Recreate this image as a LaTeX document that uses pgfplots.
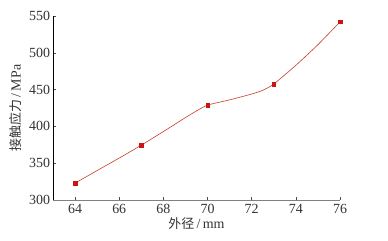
\documentclass[border=0pt]{standalone}
\usepackage{fontspec}
\setmainfont{Liberation Serif}
\newfontfamily\cjk{Noto Sans CJK SC}
\usepackage{pgfplots}
\pgfplotsset{compat=1.18}
\definecolor{linec}{RGB}{200,60,40}
\definecolor{markc}{RGB}{205,20,20}
\begin{document}
\fontsize{14}{16}\selectfont
\begin{tikzpicture}
\useasboundingbox (-53bp,-41bp) rectangle (335bp,200bp);
\begin{axis}[
  scale only axis,
  width=287bp, height=184bp,
  xmin=63, xmax=76, ymin=300, ymax=550,
  axis lines*=left,
  axis line style={black, line width=0.6pt},
  x axis line style={gray},
  xtick={64,66,...,76},
  ytick={300,350,...,550},
  tick align=inside,
  major tick length=3bp,
  tick style={black!70, line width=0.5pt},
  /pgf/number format/assume math mode=true,
  ticklabel style={font=\fontsize{14}{16}\selectfont, text=black!80},
  xticklabel style={yshift=1pt},
  yticklabel style={xshift=2pt},
  xlabel={{\cjk\fontsize{13}{15}\selectfont 外径}\,/\,mm},
  ylabel={{\cjk\fontsize{13}{15}\selectfont 接触应力}\,/\,MPa},
  label style={text=black!80},
  xlabel style={yshift=5pt},
  ylabel style={yshift=-2pt},
  clip=false,
]
\addplot[linec, line width=0.6pt, smooth, tension=0.3] coordinates {
 (64,323) (65,340) (66,357) (67,374.5) (68,393) (69,412) (69.5,421) (70,429)
 (71,436) (72,444) (72.5,449) (73,457.5) (74,483) (75,511) (76,542)
};
\addplot[only marks, mark=square*, mark size=1.8bp, markc] coordinates {
 (64,323) (67,374.5) (70,429) (73,457.5) (76,542)
};
\end{axis}
\end{tikzpicture}
\end{document}
